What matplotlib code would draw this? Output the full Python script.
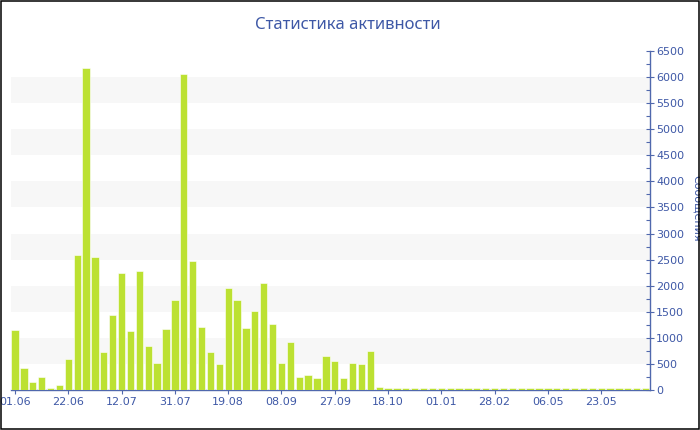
import numpy as np
import matplotlib
matplotlib.use("Agg")
import matplotlib.pyplot as plt
from matplotlib.patches import Rectangle
from matplotlib.ticker import MultipleLocator

title = "Статистика активности"
y_label = "Сообщения"

values = [1150, 415, 147, 249, 38, 96, 594, 2589, 6168, 2550,
          722, 1438, 2250, 1131, 2288, 850, 524, 1170, 1726, 6066,
          2480, 1214, 729, 492, 1956, 1719, 1182, 1515, 2051, 1272,
          511, 914, 249, 281, 224, 658, 562, 224, 511, 505,
          741, 50, 42, 35, 35, 35, 35, 35, 35, 35,
          35, 35, 35, 35, 35, 35, 35, 35, 35, 35,
          35, 35, 35, 35, 35, 35, 35, 35, 35, 35,
          35, 35]
tick_labels = ["01.06", "22.06", "12.07", "31.07", "19.08", "08.09",
               "27.09", "18.10", "01.01", "28.02", "06.05", "23.05"]
tick_step = 6

text_color = "#3e58a6"
axis_color = "#5068ad"
bar_color = "#bce132"
band_color = "#f7f7f7"

W, H = 700, 430
fig = plt.figure(figsize=(W / 100, H / 100), dpi=100)
left, right, top, bottom = 10.6, 650, 51, 390
ax = fig.add_axes([left / W, 1 - bottom / H, (right - left) / W, (bottom - top) / H])

n = len(values)
x = np.arange(n)
for y0 in range(500, 6500, 1000):
    ax.axhspan(y0, y0 + 500, color=band_color, zorder=0, lw=0)
ax.bar(x, values, width=0.82, color=bar_color, edgecolor="white", linewidth=0.4, zorder=2)

ax.set_xlim(-0.5, n - 0.5)
ax.set_ylim(0, 6500)
ax.set_facecolor("white")

for s in ("top", "left"):
    ax.spines[s].set_visible(False)
for s in ("right", "bottom"):
    ax.spines[s].set_color(axis_color)
    ax.spines[s].set_linewidth(1.0)
ax.spines["bottom"].set_zorder(1)

ax.yaxis.tick_right()
ax.yaxis.set_major_locator(MultipleLocator(500))
ax.yaxis.set_minor_locator(MultipleLocator(250))
ax.tick_params(axis="y", which="major", direction="inout", length=6, width=0.8,
               color=axis_color, labelcolor=text_color, labelsize=8, pad=1.5)
ax.tick_params(axis="y", which="minor", direction="in", length=3, width=0.8, color=axis_color)

tick_pos = np.arange(0, n, tick_step)[:len(tick_labels)]
ax.set_xticks(tick_pos)
ax.set_xticklabels(tick_labels)
ax.tick_params(axis="x", which="major", direction="out", length=3, width=0.8,
               color=axis_color, labelcolor=text_color, labelsize=8, pad=2)

fig.text(348 / W, 1 - 25 / H, title, ha="center", va="center", color=text_color,
         fontsize=12, family=["Noto Sans", "DejaVu Sans"])
fig.text(697 / W, 1 - 208 / H, y_label, ha="center", va="center", rotation=-90,
         color=text_color, fontsize=8)

fig.add_artist(Rectangle((0.7 / W, 1 - 428.7 / H), 698 / W, 428 / H, transform=fig.transFigure,
                         fill=False, edgecolor="black", linewidth=1.1, zorder=10))

fig.savefig("out.png", dpi=100)
